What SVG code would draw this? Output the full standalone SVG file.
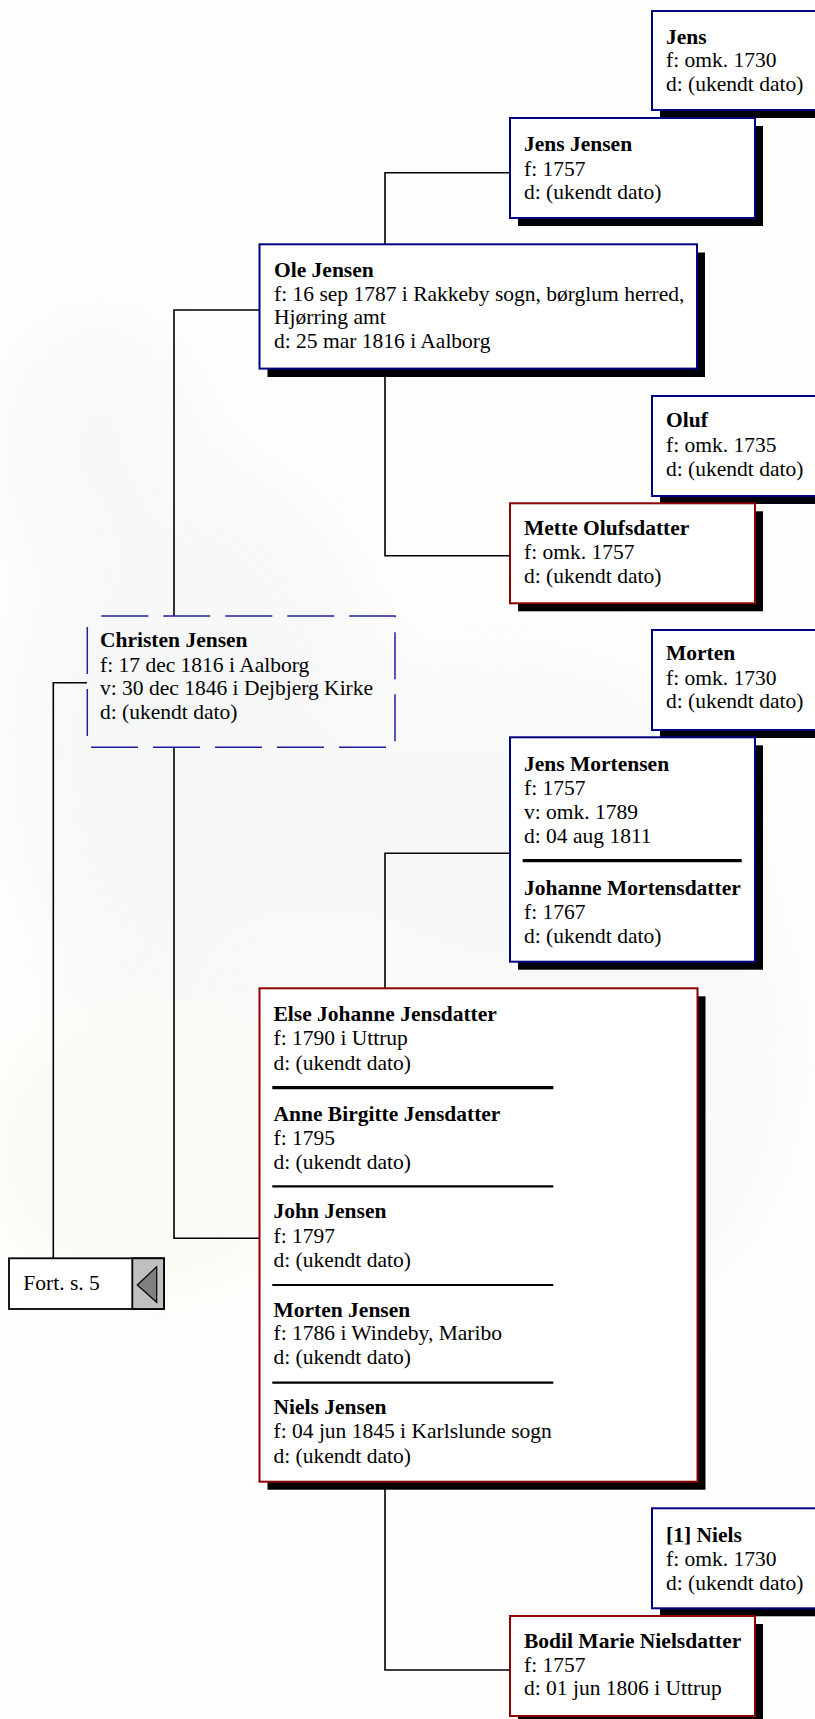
<svg xmlns="http://www.w3.org/2000/svg" width="815" height="1719" viewBox="0 0 815 1719">
<defs>
<filter id="blur" x="-50%" y="-50%" width="200%" height="200%"><feGaussianBlur stdDeviation="40"/></filter>
<style>
text{font-family:"Liberation Serif","Times New Roman",serif;font-size:21.5px;fill:#000}
.n{font-weight:bold}
.box{fill:#fff;stroke-width:2}
.m{stroke:#000080}
.f{stroke:#8b0000}
.sh{fill:#000}
.sep{stroke:#000;stroke-width:2.2}
.sep3{stroke:#000;stroke-width:3.2}
.con{fill:none;stroke:#000;stroke-width:1.6}
</style>
</defs>
<g id="background">
<rect x="0" y="0" width="815" height="1719" fill="#fefefd"/>
<g filter="url(#blur)" opacity="0.35">
<ellipse cx="200" cy="750" rx="200" ry="300" fill="#eaefee"/>
<ellipse cx="500" cy="850" rx="260" ry="200" fill="#eef1ee"/>
<ellipse cx="150" cy="1150" rx="180" ry="160" fill="#f4f4e6"/>
<ellipse cx="650" cy="1050" rx="150" ry="250" fill="#f0f2ee"/>
<ellipse cx="100" cy="450" rx="120" ry="150" fill="#ecf1f2"/>
</g>
</g>
<g id="connectors">
<path class="con" d="M385 244 V172.7 H510"/>
<path class="con" d="M385 368 V555.7 H510"/>
<path class="con" d="M259 310 H174 V616"/>
<path class="con" d="M174 747 V1238.3 H259"/>
<path class="con" d="M87 682.7 H53.3 V1258"/>
<path class="con" d="M385 988 V853.3 H510"/>
<path class="con" d="M385 1482 V1670 H510"/>
</g>
<g id="node-jens">
<rect class="sh" x="660" y="19" width="170" height="99"/>
<rect class="box m" x="652" y="11" width="170" height="99"/>
<text x="666" y="44" class="n">Jens</text>
<text x="666" y="67">f: omk. 1730</text>
<text x="666" y="91">d: (ukendt dato)</text>
</g>
<g id="node-jens-jensen">
<rect class="sh" x="518" y="126" width="245" height="100"/>
<rect class="box m" x="510" y="118" width="245" height="100"/>
<text x="524" y="150.7" class="n">Jens Jensen</text>
<text x="524" y="175.5">f: 1757</text>
<text x="524" y="199">d: (ukendt dato)</text>
</g>
<g id="node-ole-jensen">
<rect class="sh" x="267.5" y="252.5" width="437.5" height="124.5"/>
<rect class="box m" x="259.5" y="244.3" width="437.5" height="124.3"/>
<text x="274" y="276.7" class="n">Ole Jensen</text>
<text x="274" y="300.7">f: 16 sep 1787 i Rakkeby sogn, børglum herred,</text>
<text x="274" y="324.3">Hjørring amt</text>
<text x="274" y="348.3">d: 25 mar 1816 i Aalborg</text>
</g>
<g id="node-oluf">
<rect class="sh" x="660" y="404" width="170" height="100"/>
<rect class="box m" x="652" y="396" width="170" height="100"/>
<text x="666" y="427.3" class="n">Oluf</text>
<text x="666" y="451.7">f: omk. 1735</text>
<text x="666" y="475.7">d: (ukendt dato)</text>
</g>
<g id="node-mette-olufsdatter">
<rect class="sh" x="518" y="511.3" width="245" height="100"/>
<rect class="box f" x="510" y="503.3" width="245" height="100"/>
<text x="524" y="535" class="n">Mette Olufsdatter</text>
<text x="524" y="558.5">f: omk. 1757</text>
<text x="524" y="582.7">d: (ukendt dato)</text>
</g>
<g id="node-christen-jensen">
<rect x="87.3" y="616" width="307.7" height="131.3" fill="none" stroke="#1f1fa0" stroke-width="1.5" stroke-dasharray="47 15" stroke-dashoffset="-14"/>
<text x="100" y="646.7" class="n">Christen Jensen</text>
<text x="100" y="671.5">f: 17 dec 1816 i Aalborg</text>
<text x="100" y="695">v: 30 dec 1846 i Dejbjerg Kirke</text>
<text x="100" y="718.5">d: (ukendt dato)</text>
</g>
<g id="node-morten">
<rect class="sh" x="660" y="638" width="170" height="100"/>
<rect class="box m" x="652" y="630" width="170" height="100"/>
<text x="666" y="660" class="n">Morten</text>
<text x="666" y="684.5">f: omk. 1730</text>
<text x="666" y="707.5">d: (ukendt dato)</text>
</g>
<g id="node-jens-mortensen">
<rect class="sh" x="518" y="745.3" width="245" height="224.4"/>
<rect class="box m" x="510" y="737.3" width="245" height="224.4"/>
<text x="524" y="770.7" class="n">Jens Mortensen</text>
<text x="524" y="795">f: 1757</text>
<text x="524" y="819">v: omk. 1789</text>
<text x="524" y="842.5">d: 04 aug 1811</text>
<line class="sep3" x1="522.7" y1="860.7" x2="741.7" y2="860.7"/>
<text x="524" y="895" class="n">Johanne Mortensdatter</text>
<text x="524" y="919">f: 1767</text>
<text x="524" y="942.7">d: (ukendt dato)</text>
</g>
<g id="node-else-johanne-jensdatter">
<rect class="sh" x="267.5" y="996.3" width="438" height="493.4"/>
<rect class="box f" x="259.5" y="988.3" width="438" height="493.4"/>
<text x="273.5" y="1020.7" class="n">Else Johanne Jensdatter</text>
<text x="273.5" y="1045">f: 1790 i Uttrup</text>
<text x="273.5" y="1069.5">d: (ukendt dato)</text>
<line class="sep3" x1="272.3" y1="1087.7" x2="553.3" y2="1087.7"/>
<text x="273.5" y="1120.7" class="n">Anne Birgitte Jensdatter</text>
<text x="273.5" y="1145">f: 1795</text>
<text x="273.5" y="1169.3">d: (ukendt dato)</text>
<line class="sep" x1="272.3" y1="1186.3" x2="553.3" y2="1186.3"/>
<text x="273.5" y="1218.3" class="n">John Jensen</text>
<text x="273.5" y="1243">f: 1797</text>
<text x="273.5" y="1266.7">d: (ukendt dato)</text>
<line class="sep" x1="272.3" y1="1285" x2="553.3" y2="1285"/>
<text x="273.5" y="1316.7" class="n">Morten Jensen</text>
<text x="273.5" y="1340">f: 1786 i Windeby, Maribo</text>
<text x="273.5" y="1364.3">d: (ukendt dato)</text>
<line class="sep" x1="272.3" y1="1382.7" x2="553.3" y2="1382.7"/>
<text x="273.5" y="1414.3" class="n">Niels Jensen</text>
<text x="273.5" y="1438.3">f: 04 jun 1845 i Karlslunde sogn</text>
<text x="273.5" y="1462.7">d: (ukendt dato)</text>
</g>
<g id="node-fort-s-5">
<rect x="9" y="1258.3" width="155" height="50.7" fill="#fff" stroke="#000" stroke-width="1.8"/>
<rect x="132.3" y="1258.3" width="31.7" height="50.7" fill="#c0c0c0" stroke="#000" stroke-width="1.8"/>
<polygon points="137.3,1285 156.7,1266.7 156.7,1302.3" fill="#808080" stroke="#000" stroke-width="1.2"/>
<text x="23.3" y="1290">Fort. s. 5</text>
</g>
<g id="node-niels">
<rect class="sh" x="660" y="1516.3" width="170" height="100"/>
<rect class="box m" x="652" y="1508.3" width="170" height="100"/>
<text x="666" y="1541.7" class="n">[1] Niels</text>
<text x="666" y="1566">f: omk. 1730</text>
<text x="666" y="1590">d: (ukendt dato)</text>
</g>
<g id="node-bodil-marie-nielsdatter">
<rect class="sh" x="518" y="1624" width="245" height="100"/>
<rect class="box f" x="510" y="1616" width="245" height="100"/>
<text x="524" y="1648.3" class="n">Bodil Marie Nielsdatter</text>
<text x="524" y="1671.7">f: 1757</text>
<text x="524" y="1695">d: 01 jun 1806 i Uttrup</text>
</g>
</svg>
